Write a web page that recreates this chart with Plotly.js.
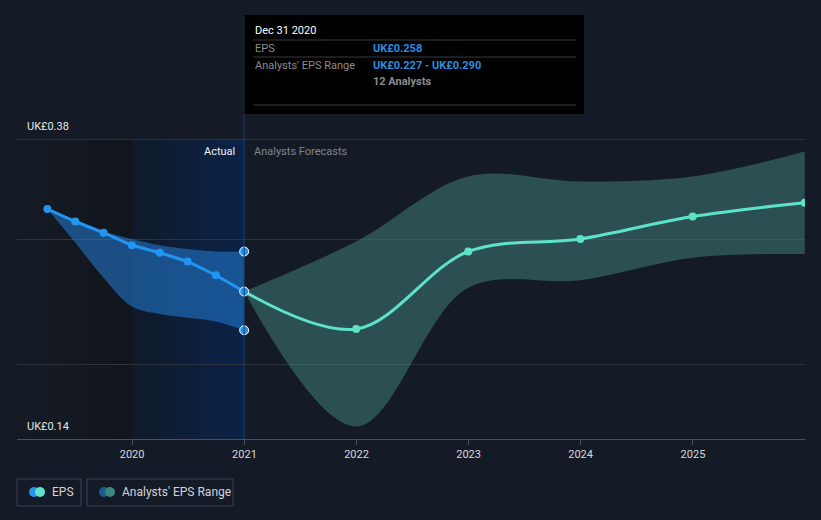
<!DOCTYPE html>
<html>
<head>
<meta charset="utf-8">
<script src="https://cdn.plot.ly/plotly-3.0.1.min.js"></script>
<style>
html,body{margin:0;padding:0;background:#151b26;}
#chart{width:821px;height:520px;}
</style>
</head>
<body>
<div id="chart"></div>
<script>
// ---- data ----
const actualDates = ['2019-03-31','2019-06-30','2019-09-30','2019-12-31','2020-03-31','2020-06-30','2020-09-30','2020-12-31'];
const actualEps   = [0.324, 0.314, 0.305, 0.295, 0.289, 0.282, 0.271, 0.258];
const actualLow   = [0.324, 0.297, 0.269, 0.246, 0.240, 0.237, 0.234, 0.227];
const actualHigh  = [0.324, 0.314, 0.306, 0.300, 0.295, 0.292, 0.290, 0.290];

const forecastDates = ['2020-12-31','2021-12-31','2022-12-31','2023-12-31','2024-12-31','2025-12-31'];
const forecastEps   = [0.258, 0.228, 0.290, 0.300, 0.318, 0.329];
const forecastLow   = [0.258, 0.150, 0.261, 0.267, 0.285, 0.288];
const forecastHigh  = [0.258, 0.298, 0.350, 0.346, 0.350, 0.370];

const yearTicks = ['2020-01-01','2021-01-01','2022-01-01','2023-01-01','2024-01-01','2025-01-01'];
const yearLabels = ['2020','2021','2022','2023','2024','2025'];
const yLabels = ['UK£0.38', 'UK£0.14'];
const yRange = [0.14, 0.38];
const xRange = ['2018-12-22', '2026-01-01'];
const regionStart = '2020-01-01';
const regionEnd = '2020-12-31';

const tooltipDate = 'Dec 31 2020';
const tooltipEps = 'UK£0.258';
const tooltipRange = 'UK£0.227 - UK£0.290';
const tooltipAnalysts = '12 Analysts';

// ---- layout helpers (pixel -> paper) ----
const W = 821, H = 520, ML = 17, MR = 16, MT = 139, MB = 81;
const PW = W - ML - MR, PH = H - MT - MB;
const px = p => (p - ML) / PW;
const py = p => (H - MB - p) / PH;

const BLUE = '#2394f0', TEAL = '#5ee3c8';
const FONT = 'Roboto, "Open Sans", sans-serif';

function mix(a, b, t) {
  return 'rgb(' + a.map((v, i) => Math.round(v + (b[i] - v) * t)).join(',') + ')';
}
function toMs(d) { return new Date(d + 'T00:00:00Z').getTime(); }
function fromMs(ms) { return new Date(ms).toISOString().slice(0, 10); }

const shapes = [];
// gradient background regions (stepped)
function gradRegion(d0, d1, c0, c1, steps) {
  const a = toMs(d0), b = toMs(d1);
  for (let i = 0; i < steps; i++) {
    shapes.push({
      type: 'rect', layer: 'below', xref: 'x', yref: 'paper',
      x0: fromMs(a + (b - a) * i / steps), x1: fromMs(a + (b - a) * (i + 1) / steps + 86400000),
      y0: 0, y1: 1, line: {width: 0}, fillcolor: mix(c0, c1, (i + 0.5) / steps)
    });
  }
}
gradRegion(xRange[0], regionStart, [21, 27, 37], [17, 21, 28], 30);
gradRegion(regionStart, regionEnd, [16, 26, 42], [11, 35, 72], 40);

// top line
shapes.push({type: 'line', xref: 'paper', yref: 'y', x0: 0, x1: 1, y0: yRange[1], y1: yRange[1],
  line: {color: '#474d57', width: 1}});
// vertical hover line
shapes.push({type: 'line', xref: 'x', yref: 'paper', x0: regionEnd, x1: regionEnd, y0: 0, y1: py(114),
  line: {color: '#1d3c66', width: 1}});
// tooltip box
shapes.push({type: 'rect', xref: 'paper', yref: 'paper', x0: px(245), x1: px(584), y0: py(114), y1: py(15),
  fillcolor: '#000000', line: {width: 0}});
[40, 57, 105].forEach(yy => shapes.push({type: 'line', xref: 'paper', yref: 'paper',
  x0: px(253), x1: px(576), y0: py(yy), y1: py(yy), line: {color: '#3a3a3a', width: 1}}));
// legend boxes
shapes.push({type: 'rect', xref: 'paper', yref: 'paper', x0: px(17), x1: px(81), y0: py(506), y1: py(479),
  line: {color: '#3b4250', width: 1}, fillcolor: 'rgba(0,0,0,0)'});
shapes.push({type: 'rect', xref: 'paper', yref: 'paper', x0: px(87), x1: px(233), y0: py(506), y1: py(479),
  line: {color: '#3b4250', width: 1}, fillcolor: 'rgba(0,0,0,0)'});
function legendDot(cx, color) {
  shapes.push({type: 'circle', xref: 'paper', yref: 'paper', x0: px(cx - 5), x1: px(cx + 5),
    y0: py(497), y1: py(487), fillcolor: color, line: {width: 0}});
}
legendDot(34, BLUE); legendDot(40, TEAL);
legendDot(104, '#1f5b8c'); legendDot(110, '#3d8580');

const annotations = [
  {xref: 'paper', yref: 'y', x: px(25), y: yRange[1], yshift: 4, xanchor: 'left', yanchor: 'bottom',
    text: yLabels[0], showarrow: false, font: {family: FONT, size: 11, color: '#e6e6e6'}},
  {xref: 'paper', yref: 'y', x: px(25), y: yRange[0], yshift: 4, xanchor: 'left', yanchor: 'bottom',
    text: yLabels[1], showarrow: false, font: {family: FONT, size: 11, color: '#e6e6e6'}},
  {xref: 'x', yref: 'y', x: regionEnd, y: yRange[1], xshift: -7, yshift: -4, xanchor: 'right', yanchor: 'top',
    text: 'Actual', showarrow: false, font: {family: FONT, size: 11, color: '#f0f0f0'}},
  {xref: 'x', yref: 'y', x: regionEnd, y: yRange[1], xshift: 8, yshift: -4, xanchor: 'left', yanchor: 'top',
    text: 'Analysts Forecasts', showarrow: false, font: {family: FONT, size: 11, color: '#80858e'}},
  // tooltip texts
  {xref: 'paper', yref: 'paper', x: px(253), y: py(31), xanchor: 'left', yanchor: 'middle', showarrow: false,
    text: tooltipDate, font: {family: FONT, size: 11, color: '#ffffff'}},
  {xref: 'paper', yref: 'paper', x: px(253), y: py(48), xanchor: 'left', yanchor: 'middle', showarrow: false,
    text: 'EPS', font: {family: FONT, size: 11, color: '#8c8c8c'}},
  {xref: 'paper', yref: 'paper', x: px(371), y: py(48), xanchor: 'left', yanchor: 'middle', showarrow: false,
    text: '<b>' + tooltipEps + '</b>', font: {family: FONT, size: 11, color: '#2a8ee0'}},
  {xref: 'paper', yref: 'paper', x: px(253), y: py(65), xanchor: 'left', yanchor: 'middle', showarrow: false,
    text: "Analysts' EPS Range", font: {family: FONT, size: 11, color: '#8c8c8c'}},
  {xref: 'paper', yref: 'paper', x: px(371), y: py(65), xanchor: 'left', yanchor: 'middle', showarrow: false,
    text: '<b>' + tooltipRange + '</b>', font: {family: FONT, size: 11, color: '#2a8ee0'}},
  {xref: 'paper', yref: 'paper', x: px(371), y: py(81), xanchor: 'left', yanchor: 'middle', showarrow: false,
    text: '<b>' + tooltipAnalysts + '</b>', font: {family: FONT, size: 11, color: '#8c8c8c'}},
  // legend texts
  {xref: 'paper', yref: 'paper', x: px(50), y: py(492), xanchor: 'left', yanchor: 'middle', showarrow: false,
    text: 'EPS', font: {family: FONT, size: 12, color: '#d2d4d8'}},
  {xref: 'paper', yref: 'paper', x: px(120), y: py(492), xanchor: 'left', yanchor: 'middle', showarrow: false,
    text: "Analysts' EPS Range", font: {family: FONT, size: 12, color: '#d2d4d8'}}
];

const last = actualDates.length - 1;
const traces = [
  // actual range band
  {x: actualDates, y: actualLow, type: 'scatter', mode: 'lines', line: {width: 0, shape: 'spline', smoothing: 1},
    hoverinfo: 'skip', showlegend: false},
  {x: actualDates, y: actualHigh, type: 'scatter', mode: 'lines', line: {width: 0, shape: 'spline', smoothing: 1},
    fill: 'tonexty', fillcolor: 'rgba(35,125,215,0.55)', hoverinfo: 'skip', showlegend: false},
  // forecast range band
  {x: forecastDates, y: forecastLow, type: 'scatter', mode: 'lines', line: {width: 0, shape: 'spline', smoothing: 1},
    hoverinfo: 'skip', showlegend: false},
  {x: forecastDates, y: forecastHigh, type: 'scatter', mode: 'lines', line: {width: 0, shape: 'spline', smoothing: 1},
    fill: 'tonexty', fillcolor: 'rgba(67,133,126,0.5)', hoverinfo: 'skip', showlegend: false},
  // forecast EPS line
  {x: forecastDates, y: forecastEps, type: 'scatter', mode: 'lines+markers',
    line: {color: TEAL, width: 3, shape: 'spline', smoothing: 1},
    marker: {color: TEAL, size: 8}, hoverinfo: 'skip', showlegend: false},
  // actual EPS line
  {x: actualDates, y: actualEps, type: 'scatter', mode: 'lines+markers',
    line: {color: BLUE, width: 3},
    marker: {color: BLUE, size: 8}, hoverinfo: 'skip', showlegend: false},
  // hovered points
  {x: [actualDates[last], actualDates[last], actualDates[last]],
    y: [actualHigh[last], actualEps[last], actualLow[last]], type: 'scatter', mode: 'markers',
    marker: {color: BLUE, size: 9, line: {color: '#ffffff', width: 1}}, hoverinfo: 'skip', showlegend: false}
];

const layout = {
  width: W, height: H,
  margin: {l: ML, r: MR, t: MT, b: MB},
  paper_bgcolor: '#151b26', plot_bgcolor: 'rgba(0,0,0,0)',
  showlegend: false,
  font: {family: FONT},
  xaxis: {
    type: 'date', range: xRange, tickmode: 'array', tickvals: yearTicks, ticktext: yearLabels,
    showgrid: false, zeroline: false,
    showline: true, linecolor: '#4a505a', linewidth: 1,
    ticks: 'outside', ticklen: 5, tickcolor: '#4a505a',
    tickfont: {family: FONT, size: 11, color: '#d6d8dc'}, fixedrange: true
  },
  yaxis: {
    range: yRange, tickvals: [0.2, 0.3], showticklabels: false,
    showgrid: true, gridcolor: '#2d333d', gridwidth: 1, zeroline: false, showline: false, fixedrange: true
  },
  shapes: shapes,
  annotations: annotations
};

Plotly.newPlot('chart', traces, layout, {displayModeBar: false, staticPlot: true});
</script>
</body>
</html>
